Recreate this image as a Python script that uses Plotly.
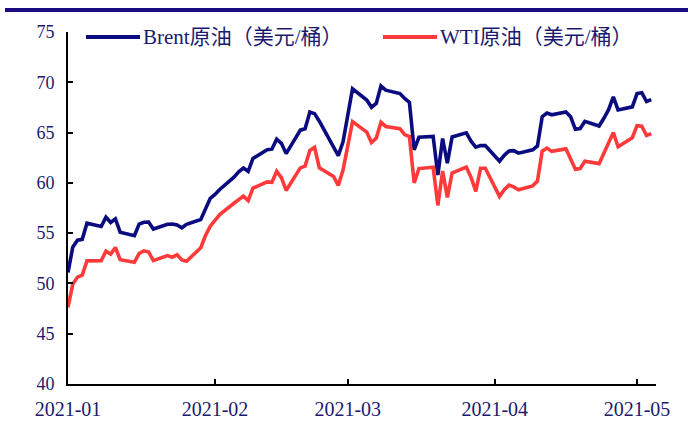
import plotly.graph_objects as go

# x positions of the daily points as they sit on the chart's date axis
dates = [
    "2021-01-01", "2021-01-02", "2021-01-03", "2021-01-04", "2021-01-05",
    "2021-01-08", "2021-01-09", "2021-01-10", "2021-01-11", "2021-01-12",
    "2021-01-15", "2021-01-16", "2021-01-17", "2021-01-18", "2021-01-19",
    "2021-01-22", "2021-01-23", "2021-01-24", "2021-01-25", "2021-01-26",
    "2021-01-29", "2021-01-30", "2021-01-31", "2021-02-01", "2021-02-02",
    "2021-02-05", "2021-02-06", "2021-02-07", "2021-02-08", "2021-02-09",
    "2021-02-12", "2021-02-13", "2021-02-14", "2021-02-15", "2021-02-16",
    "2021-02-19", "2021-02-20", "2021-02-21", "2021-02-22", "2021-02-23",
    "2021-02-26", "2021-02-27", "2021-02-28", "2021-03-01", "2021-03-02",
    "2021-03-05", "2021-03-06", "2021-03-07", "2021-03-08", "2021-03-09",
    "2021-03-12", "2021-03-13", "2021-03-14", "2021-03-15", "2021-03-16",
    "2021-03-19", "2021-03-20", "2021-03-21", "2021-03-22", "2021-03-23",
    "2021-03-26", "2021-03-27", "2021-03-28", "2021-03-29", "2021-03-30",
    "2021-04-02", "2021-04-03", "2021-04-04", "2021-04-05", "2021-04-06",
    "2021-04-09", "2021-04-10", "2021-04-11", "2021-04-12", "2021-04-13",
    "2021-04-16", "2021-04-17", "2021-04-18", "2021-04-19", "2021-04-20",
    "2021-04-23", "2021-04-24", "2021-04-25", "2021-04-26", "2021-04-27",
    "2021-04-30", "2021-05-01", "2021-05-02", "2021-05-03", "2021-05-04",
]

brent = [
    51.09, 53.60, 54.30, 54.38, 55.99, 55.66, 56.58, 56.06, 56.42, 55.10,
    54.75, 55.90, 56.08, 56.10, 55.41, 55.88, 55.91, 55.81, 55.53, 55.88,
    56.35, 57.46, 58.46, 58.84, 59.34, 60.56, 61.09, 61.47, 61.14, 62.43,
    63.30, 63.35, 64.34, 63.93, 62.91, 65.24, 65.37, 67.04, 66.88, 66.13,
    63.69, 62.70, 64.07, 66.74, 69.36, 68.24, 67.52, 67.90, 69.63, 69.22,
    68.88, 68.39, 68.00, 63.28, 64.53, 64.62, 60.79, 64.41, 61.95, 64.57,
    64.98, 64.14, 63.54, 63.70, 63.70, 62.15, 62.74, 63.16, 63.20, 62.95,
    63.28, 63.67, 66.58, 66.94, 66.77, 67.05, 66.57, 65.32, 65.40, 66.11,
    65.65, 66.42, 67.27, 68.56, 67.25, 67.56, 68.88, 68.96, 68.09, 68.28,
]

wti = [
    47.62, 49.93, 50.63, 50.83, 52.24, 52.25, 53.21, 52.91, 53.57, 52.36,
    52.10, 52.98, 53.24, 53.13, 52.27, 52.77, 52.61, 52.85, 52.34, 52.20,
    53.55, 54.76, 55.69, 56.23, 56.85, 57.97, 58.36, 58.68, 58.24, 59.47,
    60.10, 60.05, 61.14, 60.52, 59.24, 61.49, 61.67, 63.22, 63.53, 61.50,
    60.64, 59.75, 61.28, 63.83, 66.09, 65.05, 64.01, 64.44, 66.02, 65.61,
    65.39, 64.80, 64.60, 60.00, 61.42, 61.55, 57.76, 61.18, 58.56, 60.97,
    61.56, 60.55, 59.16, 61.45, 61.45, 58.65, 59.33, 59.77, 59.60, 59.32,
    59.70, 60.18, 63.15, 63.46, 63.13, 63.38, 62.44, 61.35, 61.43, 62.14,
    61.91, 62.94, 63.86, 65.01, 63.58, 64.49, 65.69, 65.63, 64.71, 64.90,
]

series_names = ["Brent原油（美元/桶）", "WTI原油（美元/桶）"]
tick_dates = ["2021-01-01", "2021-02-01", "2021-03-01", "2021-04-01", "2021-05-01"]
tick_labels = ["2021-01", "2021-02", "2021-03", "2021-04", "2021-05"]
y_ticks = [40, 45, 50, 55, 60, 65, 70, 75]

BLUE = "#0b0b80"
RED = "#ff3a3a"
TEXT = "#1a1a6e"
FONT = "Liberation Serif, Times New Roman, Noto Sans CJK SC, serif"

fig = go.Figure()
fig.add_trace(go.Scatter(x=dates, y=brent, mode="lines", name=series_names[0],
                         line=dict(color=BLUE, width=3.6), showlegend=False))
fig.add_trace(go.Scatter(x=dates, y=wti, mode="lines", name=series_names[1],
                         line=dict(color=RED, width=3.6), showlegend=False))

W, H = 688, 426
L, R, T, B = 68, 32, 32, 42
pw, ph = W - L - R, H - T - B


def px(x):
    return (x - L) / pw


def py(y):
    return (H - B - y) / ph


shapes = [
    # header rule at the very top
    dict(type="line", xref="paper", yref="paper", x0=px(5), x1=px(688),
         y0=py(10), y1=py(10), line=dict(color="#1a0a80", width=4)),
    # legend samples
    dict(type="line", xref="paper", yref="paper", x0=px(86), x1=px(140),
         y0=py(37), y1=py(37), line=dict(color=BLUE, width=4)),
    dict(type="line", xref="paper", yref="paper", x0=px(383), x1=px(437),
         y0=py(37), y1=py(37), line=dict(color=RED, width=4)),
]
annotations = [
    dict(xref="paper", yref="paper", x=px(141), y=py(37), xanchor="left",
         yanchor="middle", text=series_names[0], showarrow=False,
         font=dict(family=FONT, size=21, color=TEXT)),
    dict(xref="paper", yref="paper", x=px(438), y=py(37), xanchor="left",
         yanchor="middle", text=series_names[1], showarrow=False,
         font=dict(family=FONT, size=21, color=TEXT)),
]

fig.update_layout(
    width=W, height=H,
    margin=dict(l=L, r=R, t=T, b=B, autoexpand=False),
    paper_bgcolor="white", plot_bgcolor="white",
    shapes=shapes, annotations=annotations,
    font=dict(family=FONT, size=19, color=TEXT),
    xaxis=dict(
        type="date", range=["2021-01-01", "2021-05-05"],
        tickvals=tick_dates, ticktext=tick_labels,
        showgrid=False, zeroline=False,
        showline=True, linecolor="black", linewidth=2,
        ticks="inside", ticklen=5, tickwidth=2, tickcolor="black",
        ticklabelstandoff=6,
        tickfont=dict(family=FONT, size=20, color=TEXT),
    ),
    yaxis=dict(
        range=[40, 75], tickvals=y_ticks,
        showgrid=False, zeroline=False,
        showline=True, linecolor="black", linewidth=2,
        ticks="inside", ticklen=5, tickwidth=2, tickcolor="black",
        ticklabelstandoff=8,
        tickfont=dict(family=FONT, size=18, color=TEXT),
    ),
)

fig.write_html("out.html", config={"displayModeBar": False, "staticPlot": True})

# remove the browser's default page margin so the figure sits at the top-left
with open("out.html", "r", encoding="utf-8") as f:
    html = f.read()
html = html.replace("<head>", "<head><style>html,body{margin:0;padding:0;overflow:hidden;}</style>", 1)
with open("out.html", "w", encoding="utf-8") as f:
    f.write(html)
